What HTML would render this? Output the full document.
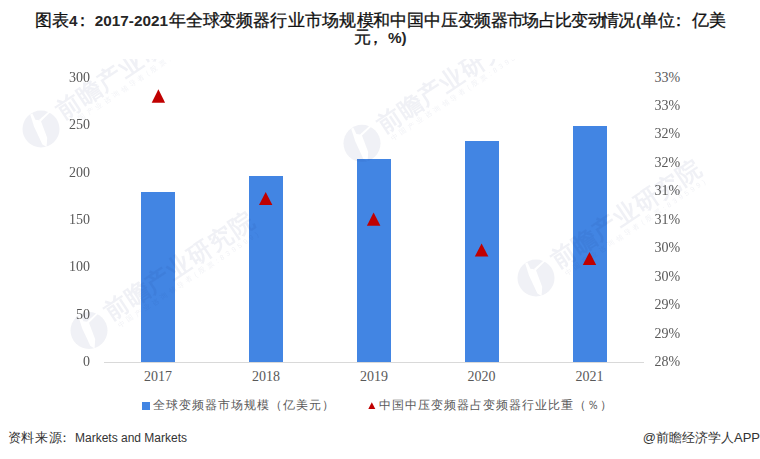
<!DOCTYPE html>
<html><head><meta charset="utf-8">
<style>
html,body{margin:0;padding:0;background:#fff;}
body{width:760px;height:459px;position:relative;overflow:hidden;font-family:"Liberation Sans",sans-serif;}
.t{position:absolute;top:12px;white-space:nowrap;font-weight:400;font-size:17px;letter-spacing:0;line-height:17px;color:#111;-webkit-text-stroke:0.3px #111;}
.t .n,.t.n{font-size:15.3px;letter-spacing:0;font-weight:bold;color:#262626;-webkit-text-stroke:0;}
.yl{position:absolute;left:40px;width:50px;text-align:right;font-family:"Liberation Serif",serif;font-size:14px;line-height:15px;color:#595959;}
.yr{position:absolute;left:654.5px;font-family:"Liberation Serif",serif;font-size:14px;line-height:15px;color:#595959;}
.xl{position:absolute;top:369px;width:60px;text-align:center;font-family:"Liberation Serif",serif;font-size:14px;line-height:15px;color:#595959;}
.bar{position:absolute;background:#4285E3;width:34.5px;}
.axis{position:absolute;left:104px;top:362px;width:540px;height:1px;background:#d9d9d9;}
.lg{position:absolute;top:397px;font-size:12px;letter-spacing:1px;line-height:16px;color:#595959;}
.src{position:absolute;top:430px;font-size:13px;line-height:16px;color:#333;}
.wm{position:absolute;left:0;top:59px;overflow:hidden;}
</style></head><body>
<div class="t" style="left:35px">图表<span class="n">4</span><span style="position:relative;left:-3.5px">：</span></div>
<div class="t n" style="left:94.8px">2017-2021</div>
<div class="t" style="left:169px;letter-spacing:-0.17px">年全球变频器行<span style="position:relative;left:1.5px">业市场规</span><span style="position:relative;left:2.5px">模和中国中压变频器</span><span style="position:relative;left:1px">市</span>场</div>
<div class="t" style="left:539px;letter-spacing:-0.8px">占比变动<span style="margin-left:-1.6px;letter-spacing:-1.2px">情况</span></div>
<div class="t n" style="left:636.1px">(</div>
<div class="t" style="left:640.9px;letter-spacing:0.1px">单位<span style="position:relative;left:-5.5px">：</span>亿美</div>
<div class="t" style="left:354px;top:29px">元<span style="position:relative;left:-4px">，</span><span class="n">%)</span></div>

<div class="axis"></div>
<div class="bar" style="left:140.8px;top:191.8px;height:170.2px"></div>
<div class="bar" style="left:248.8px;top:176.1px;height:185.9px"></div>
<div class="bar" style="left:356.8px;top:159.3px;height:202.7px"></div>
<div class="bar" style="left:464.6px;top:141.2px;height:220.8px"></div>
<div class="bar" style="left:572.6px;top:125.9px;height:236.1px"></div>

<svg style="position:absolute;left:0;top:0" width="760" height="459">
<g fill="#C00000">
<polygon points="158.4,89.2 151.7,102.7 165.1,102.7"/>
<polygon points="265.7,191.9 259,204.9 272.4,204.9"/>
<polygon points="373.6,212.5 366.9,225.8 380.4,225.8"/>
<polygon points="481.6,243.4 474.8,256.6 488.4,256.6"/>
<polygon points="589.5,251.9 582.8,264.9 596.2,264.9"/>
</g>
</svg>

<svg class="wm" width="760" height="330" viewBox="0 59 760 330">
<defs>
<mask id="m" maskUnits="userSpaceOnUse" x="-30" y="-30" width="60" height="60"><rect x="-30" y="-30" width="60" height="60" fill="#fff"/><path d="M-10.8,-14.5 L-8.6,-15.6 L-5.6,-9.2 L-0.3,-8.6 L6.2,8.7 L5.6,18 L1.4,15.6 L-7,-2.6 L-8.7,-8 Z" fill="#000"/><path d="M-2,-8.9 L8.2,-18 L9.4,-16.9 L-0.2,-7.6 Z" fill="#000"/></mask>
<g id="w">
<circle cx="0" cy="0" r="18.5" fill="rgb(30,45,110)" mask="url(#m)"/>
<g transform="rotate(-33.6)">
<text x="23.2" y="4.3" font-size="24" font-weight="bold" textLength="174" lengthAdjust="spacing" fill="rgb(30,45,110)">前瞻产业研究院</text>
<text x="27" y="15" font-size="7" textLength="167" lengthAdjust="spacing" fill="rgb(30,45,110)">中国产业咨询领导者(股票:839599)</text>
</g>
</g>
</defs>
<g opacity="0.065" fill="rgb(30,45,110)">
<use href="#w" x="41" y="129"/>
<use href="#w" x="362" y="143.3"/>
<use href="#w" x="89" y="330.5"/>
<use href="#w" x="536" y="278"/>
</g>
</svg>
<div class="yl" style="top:69.7px">300</div>
<div class="yl" style="top:117.1px">250</div>
<div class="yl" style="top:164.5px">200</div>
<div class="yl" style="top:211.9px">150</div>
<div class="yl" style="top:259.3px">100</div>
<div class="yl" style="top:306.7px">50</div>
<div class="yl" style="top:354.1px">0</div>

<div class="yr" style="top:69.5px">33%</div>
<div class="yr" style="top:98px">33%</div>
<div class="yr" style="top:126.4px">32%</div>
<div class="yr" style="top:154.9px">32%</div>
<div class="yr" style="top:183.4px">31%</div>
<div class="yr" style="top:211.9px">31%</div>
<div class="yr" style="top:240.3px">30%</div>
<div class="yr" style="top:268.8px">30%</div>
<div class="yr" style="top:297.3px">29%</div>
<div class="yr" style="top:325.7px">29%</div>
<div class="yr" style="top:354.2px">28%</div>

<div class="xl" style="left:128px">2017</div>
<div class="xl" style="left:236px">2018</div>
<div class="xl" style="left:344px">2019</div>
<div class="xl" style="left:451.5px">2020</div>
<div class="xl" style="left:559.5px">2021</div>

<div style="position:absolute;left:142.4px;top:402.2px;width:7.5px;height:7.5px;background:#4285E3"></div>
<div class="lg" style="left:152.5px">全球变频器市场规模（亿美元）</div>
<svg style="position:absolute;left:368px;top:400px" width="9" height="11"><polygon points="3.8,2.3 0.3,8.9 7.3,8.9" fill="#C00000"/></svg>
<div class="lg" style="left:378.8px">中国中压变频器占变频器行业比重（％）</div>

<div class="src" style="left:7.5px;letter-spacing:0.9px">资料来源</div>
<div class="src" style="left:58px">：</div>
<div class="src" style="left:75px;font-size:12px">Markets and Markets</div>
<div class="src" style="right:0px">@前瞻经济学人APP</div>
</body></html>
